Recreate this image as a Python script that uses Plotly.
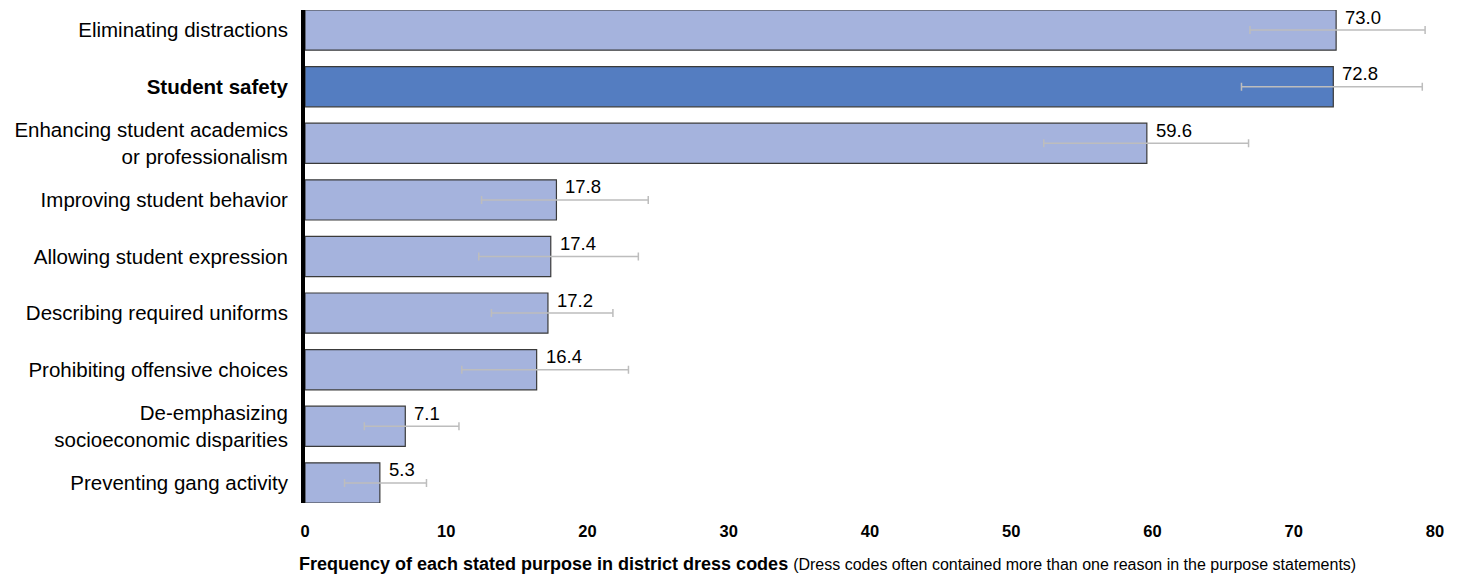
import plotly.graph_objects as go

categories = [
    "Eliminating distractions",
    "Student safety",
    "Enhancing student academics<br>or professionalism",
    "Improving student behavior",
    "Allowing student expression",
    "Describing required uniforms",
    "Prohibiting offensive choices",
    "De-emphasizing<br>socioeconomic disparities",
    "Preventing gang activity",
]
tick_labels = [
    "Eliminating distractions",
    "<b>Student safety</b>",
    "Enhancing student academics<br>or professionalism",
    "Improving student behavior",
    "Allowing student expression",
    "Describing required uniforms",
    "Prohibiting offensive choices",
    "De-emphasizing<br>socioeconomic disparities",
    "Preventing gang activity",
]
values = [73.0, 72.8, 59.6, 17.8, 17.4, 17.2, 16.4, 7.1, 5.3]
err_plus = [6.3, 6.3, 7.2, 6.5, 6.2, 4.6, 6.5, 3.8, 3.3]
err_minus = [6.1, 6.5, 7.3, 5.3, 5.1, 4.0, 5.3, 2.9, 2.5]
highlight = "Student safety"
x_ticks = [0, 10, 20, 30, 40, 50, 60, 70, 80]

light = "#A5B3DD"
dark = "#547DC1"
colors = [dark if c == highlight else light for c in categories]
FONT = "Liberation Sans, Arial, sans-serif"

fig = go.Figure()
fig.add_trace(go.Bar(
    x=values,
    y=categories,
    orientation="h",
    marker=dict(color=colors, line=dict(color="#3a3a3a", width=1.2)),
    width=0.71,
    error_x=dict(type="data", symmetric=False, array=err_plus, arrayminus=err_minus,
                 color="#BDBDBD", thickness=1.5, width=4),
    hoverinfo="skip",
))

for c, v in zip(categories, values):
    fig.add_annotation(x=v, y=c, xref="x", yref="y", text=f"{v:.1f}",
                       showarrow=False, xanchor="left", yanchor="middle",
                       xshift=7, yshift=13,
                       font=dict(family=FONT, size=18.5, color="#000"))

fig.add_annotation(
    xref="paper", yref="paper", x=0, y=0, xanchor="left", yanchor="middle",
    xshift=-8, yshift=-61, showarrow=False,
    text="<b>Frequency of each stated purpose in district dress codes</b> "
         "<span style='font-size:16px'>(Dress codes often contained more than one reason in the purpose statements)</span>",
    font=dict(family=FONT, size=18, color="#000"),
)

fig.update_layout(
    width=1452, height=567,
    margin=dict(l=297, r=25, t=2, b=72, autoexpand=False),
    paper_bgcolor="white", plot_bgcolor="white",
    showlegend=False,
    font=dict(family=FONT, color="#000"),
)
fig.update_xaxes(
    range=[0, 80], tickvals=x_ticks, ticktext=[f"<b>{t}</b>" for t in x_ticks],
    showgrid=False, zeroline=False, showline=False, ticks="",
    tickfont=dict(size=16.5), ticklabelstandoff=16,
)
fig.update_yaxes(
    categoryorder="array", categoryarray=categories, range=[8.355, -0.355],
    tickvals=categories, ticktext=tick_labels,
    showgrid=False, zeroline=False, showline=True, linecolor="#000", linewidth=4,
    ticks="", tickfont=dict(size=20.5), ticklabelstandoff=9,
)

fig.write_html("out.html")
